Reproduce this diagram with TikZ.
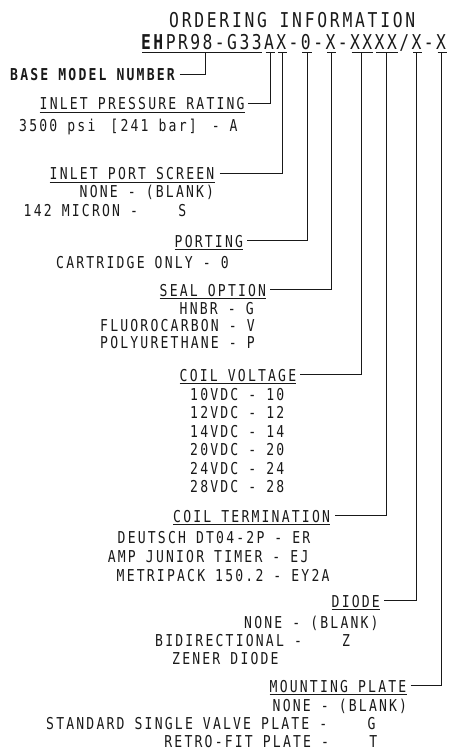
\documentclass[tikz,border=0pt]{standalone}
\usepackage{fontspec}
\newfontfamily\cadmono[FakeStretch=0.8,LetterSpace=13.4]{DejaVu Sans Mono}
\newfontfamily\cadcode[FakeStretch=0.8,LetterSpace=12]{DejaVu Sans Mono}
\newcommand\bodyfont{\cadmono\fontsize{16.36pt}{18pt}\selectfont}
\newcommand\bigfont{\cadmono\fontsize{20.43pt}{22pt}\selectfont}
\newcommand\codefont{\cadcode\fontsize{20.43pt}{22pt}\selectfont}
\definecolor{ink}{gray}{0.1}
\begin{document}
\begin{tikzpicture}[x=1pt,y=-1pt,
  txt/.style={inner sep=0pt, anchor=base west, font=\bodyfont, text=ink},
  lab/.style={txt, text depth=0pt},
  big/.style={inner sep=0pt, anchor=base west, font=\bigfont, text=ink},
  conn/.style={draw=ink, line width=1pt},
  ul/.style={draw=ink, line width=1pt}]
\useasboundingbox (0,0) rectangle (448,751);

% title and code
\node[big] (title) at (169,28) {ORDERING INFORMATION};
\node[big, font=\codefont] (code) at (141,50) {\textbf{EH}PR98-G33AX-0-X-XXXX/X-X};

% code underlines
\draw[ul] (142,53) -- (262,53);
\draw[ul] (265.5,53) -- (274.8,53);
\draw[ul] (277.8,53) -- (287.1,53);
\draw[ul] (302.4,53) -- (311.7,53);
\draw[ul] (327,53) -- (336.3,53);
\draw[ul] (351.6,53) -- (373.2,53);
\draw[ul] (376.2,53) -- (397.8,53);
\draw[ul] (413.1,53) -- (422.4,53);
\draw[ul] (437.7,53) -- (447,53);

% connector tops
\coordinate (uB) at (205,53);
\coordinate (uA) at (270.2,53);
\coordinate (uX1) at (282.5,53);
\coordinate (u0) at (307.1,53);
\coordinate (uX2) at (331.7,53);
\coordinate (uV) at (361.5,53);
\coordinate (uT) at (386.1,53);
\coordinate (uD) at (416.75,53);
\coordinate (uM) at (441.35,53);

% base model
\node[lab, font=\bodyfont\bfseries] (base) at (10,81) {BASE MODEL NUMBER};

% inlet pressure rating
\node[lab] (ipr) at (39.5,110) {INLET PRESSURE RATING};
\node[txt] (i1) at (19,132) {3500 psi\hspace{5pt} [241 bar]\hspace{5pt} - A};

% inlet port screen
\node[lab] (ips) at (49.5,180) {INLET PORT SCREEN};
\node[txt] (i2) at (79.5,198) {NONE - (BLANK)};
\node[txt] (i3) at (23.5,216) {142 MICRON -~~~~S};

% porting
\node[lab] (por) at (174.5,247) {PORTING};
\node[txt] (i4) at (56,268) {CARTRIDGE ONLY - 0};

% seal option
\node[lab] (seal) at (159.5,296) {SEAL OPTION};
\node[txt] (i5) at (179.5,314) {HNBR - G};
\node[txt] (i6) at (100,331) {FLUOROCARBON - V};
\node[txt] (i7) at (100,348) {POLYURETHANE - P};

% coil voltage
\node[lab] (cv) at (179.5,381) {COIL VOLTAGE};
\node[txt] (v1) at (190,400) {10VDC - 10};
\node[txt] (v2) at (190,418.5) {12VDC - 12};
\node[txt] (v3) at (190,437) {14VDC - 14};
\node[txt] (v4) at (190,455.5) {20VDC - 20};
\node[txt] (v5) at (190,474) {24VDC - 24};
\node[txt] (v6) at (190,492.5) {28VDC - 28};

% coil termination
\node[lab] (ct) at (173,522) {COIL TERMINATION};
\node[txt] (t1) at (117.5,543) {DEUTSCH DT04-2P - ER};
\node[txt] (t2) at (107.65,562) {AMP JUNIOR TIMER - EJ};
\node[txt] (t3) at (116.5,581) {METRIPACK 150.2 - EY2A};

% diode
\node[lab] (dio) at (331.5,607) {DIODE};
\node[txt] (d1) at (244,628) {NONE - (BLANK)};
\node[txt] (d2) at (155,646) {BIDIRECTIONAL -~~~~Z};
\node[txt] (d3) at (172,664) {ZENER DIODE};

% mounting plate
\node[lab] (mp) at (269.5,692) {MOUNTING PLATE};
\node[txt] (m1) at (272.5,711.5) {NONE - (BLANK)};
\node[txt] (m2) at (46,729.5) {STANDARD SINGLE VALVE PLATE -~~~~G};
\node[txt] (m3) at (164.2,747) {RETRO-FIT PLATE -~~~~T};

% label underlines
\foreach \n in {ipr,ips,por,seal,cv,ct,dio,mp}
  \draw[ul] ([yshift=-2pt]\n.south west) -- ([yshift=-2pt]\n.south east);

% connectors
\draw[conn, shorten <=4.5pt] (base.east) -| (uB);
\draw[conn, shorten <=3pt] (ipr.east) -| (uA);
\draw[conn, shorten <=5pt] (ips.east) -| (uX1);
\draw[conn, shorten <=4pt] (por.east) -| (u0);
\draw[conn, shorten <=4pt] (seal.east) -| (uX2);
\draw[conn, shorten <=4pt] (cv.east) -| (uV);
\draw[conn, shorten <=5pt] (ct.east) -| (uT);
\draw[conn, shorten <=4pt] (dio.east) -| (uD);
\draw[conn, shorten <=4pt] (mp.east) -| (uM);
\end{tikzpicture}
\end{document}
